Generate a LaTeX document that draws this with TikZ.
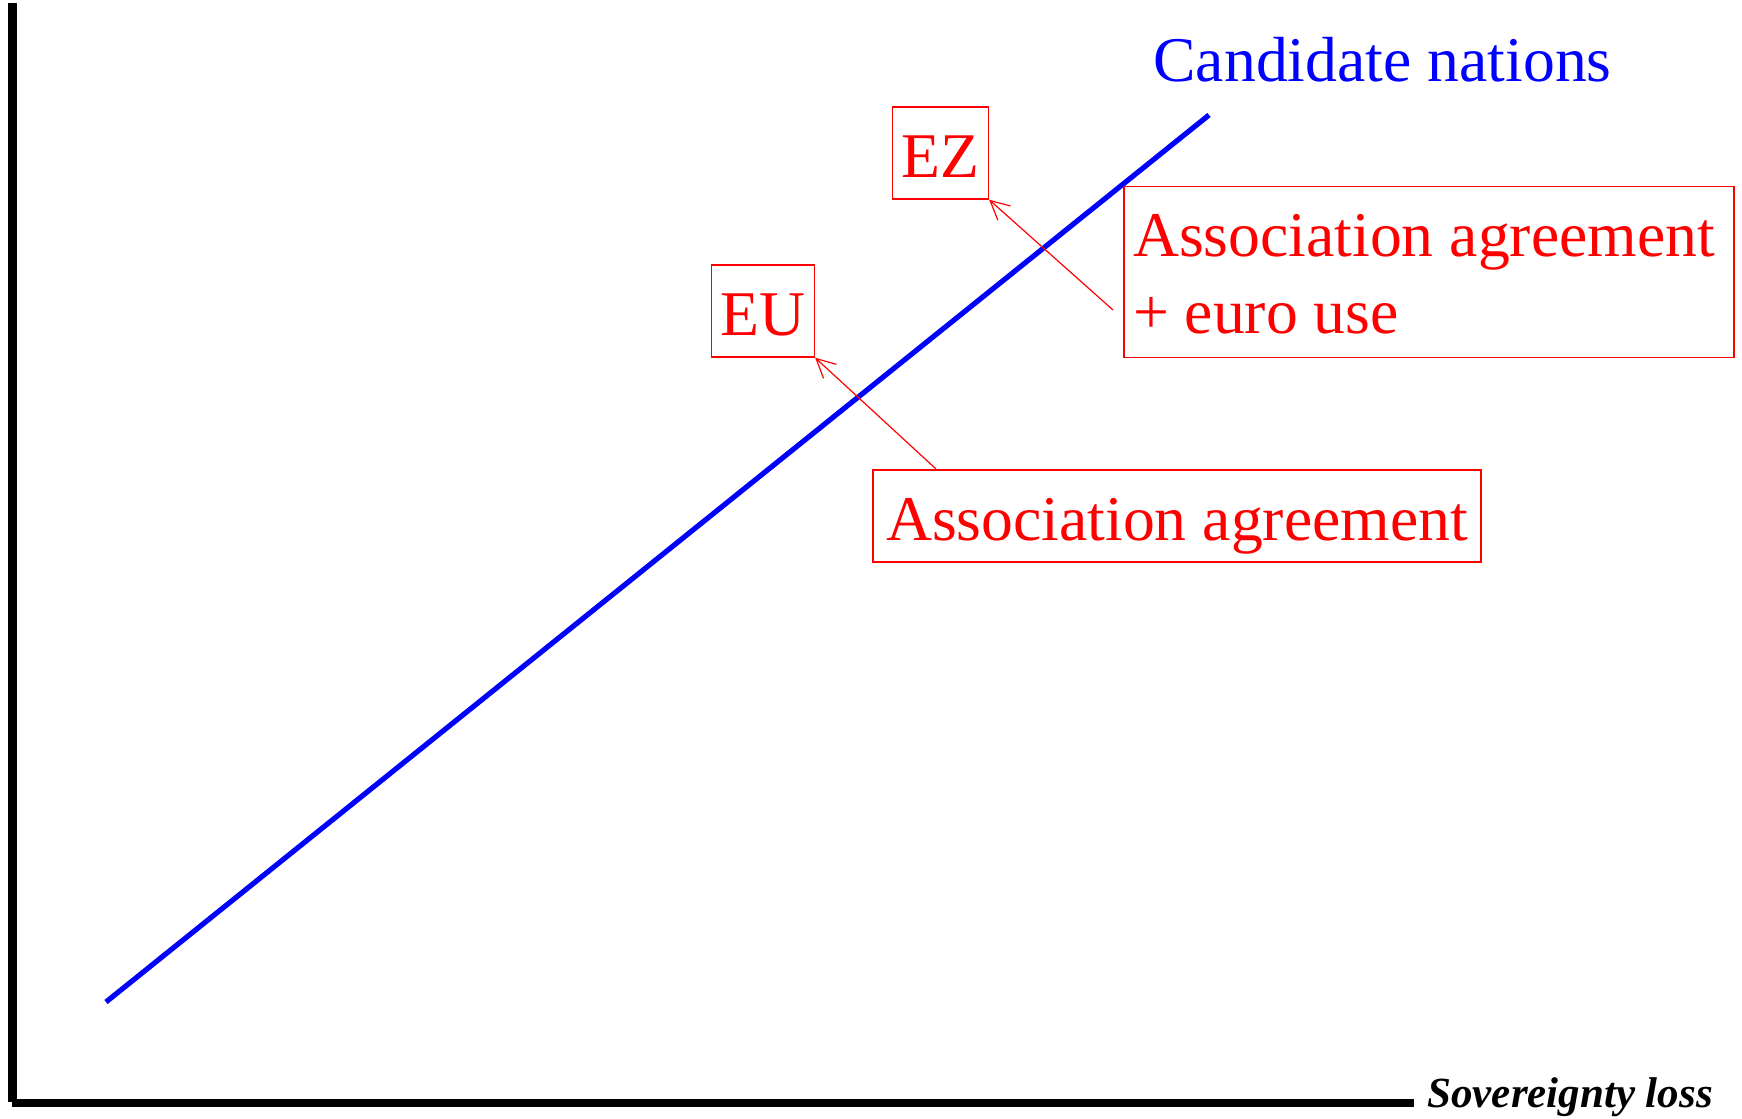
\documentclass[tikz,border=0pt]{standalone}
\usepackage{fontspec}
\setmainfont{Liberation Serif}
\usetikzlibrary{arrows.meta}
\newcommand\strA{\rule[-11pt]{0pt}{46pt}}
\newcommand\strTop{\rule{0pt}{35pt}}
\newcommand\strBot{\rule[-12pt]{0pt}{12pt}}
\begin{document}
\begin{tikzpicture}[x=0.5pt,y=-0.5pt,
  bigfont/.style={font=\fontsize{31.85pt}{38.5pt}\selectfont},
  redbox/.style={draw=red, text=red, line width=0.7pt, inner xsep=4.5pt, inner ysep=0pt, bigfont},
  pointer/.style={draw=red, line width=0.6pt, -{Straight Barb[length=9.4pt,width=9.5pt]}},
  axisline/.style={line width=4.2pt, black},
]
\useasboundingbox (0,0) rectangle (1742,1119);
% axes
\coordinate (ytop) at (12.3,3.3);
\coordinate (ybot) at (12.3,1102);
\coordinate (xleft) at (12.3,1102.7);
\coordinate (xright) at (1414,1102.7);
\draw[axisline] (ytop) -- (ybot);
\draw[axisline] (xleft) -- (xright);
\node[anchor=base west, inner sep=0pt, font=\fontsize{21.5pt}{25pt}\selectfont\bfseries\itshape] (xlab) at (1427,1107) {Sovereignty loss};
% candidate line
\coordinate (c0) at (106,1002);
\coordinate (c1) at (1209,115);
\draw[blue, line width=2.6pt] (c0) -- (c1);
\node[anchor=base west, inner sep=0pt, text=blue, bigfont] (cand) at (1153,82) {Candidate nations};
% boxes
\node[redbox] (ez) at (940.5,153) {\strA EZ};
\node[redbox] (eu) at (763,311) {\strA EU};
\node[redbox, minimum width=304pt] (aa) at (1177,516) {\strA Association agreement};
\node[redbox, text width=296pt, align=flush left] (aae) at (1429,272) {\spaceskip=0pt\xspaceskip=0pt\strTop Association agreement\\+ euro use\strBot};
% pointers
\coordinate (s1) at (1113,310);
\coordinate (s2) at (936,469);
\draw[pointer] (s1) -- (ez.south east);
\draw[pointer] (s2) -- (eu.south east);
\end{tikzpicture}
\end{document}
